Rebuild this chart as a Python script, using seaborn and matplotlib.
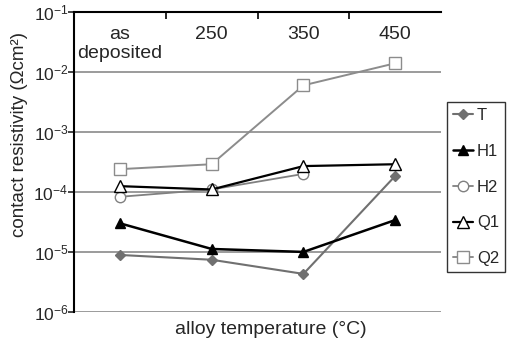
"""Contact resistivity vs alloy temperature, log scale."""
import matplotlib
matplotlib.use("Agg")
import matplotlib.pyplot as plt
import matplotlib.transforms as mtransforms
import numpy as np
import pandas as pd
import seaborn as sns

categories = ["as\ndeposited", "250", "350", "450"]
series_names = ["T", "H1", "H2", "Q1", "Q2"]
T_vals = [8.9e-6, 7.4e-6, 4.3e-6, 1.85e-4]
H1_vals = [3.0e-5, 1.12e-5, 1.0e-5, 3.4e-5]
H2_vals = [8.3e-5, 1.1e-4, 2.0e-4, np.nan]
Q1_vals = [1.25e-4, 1.1e-4, 2.7e-4, 2.9e-4]
Q2_vals = [2.4e-4, 2.9e-4, 6.0e-3, 1.4e-2]

styles = {
    "T": dict(color="#707070", marker="D", mfc="#707070", mec="#707070", ms=5.5, lw=1.5),
    "H1": dict(color="black", marker="^", mfc="black", mec="black", ms=7.5, lw=1.8),
    "H2": dict(color="#808080", marker="o", mfc="white", mec="#808080", ms=7.5, lw=1.3),
    "Q1": dict(color="black", marker="^", mfc="white", mec="black", ms=8, lw=1.6),
    "Q2": dict(color="#8c8c8c", marker="s", mfc="white", mec="#8c8c8c", ms=8, lw=1.4),
}

sns.set_style("white")
plt.rcParams["font.family"] = ["Liberation Sans", "DejaVu Sans"]

values = {"T": T_vals, "H1": H1_vals, "H2": H2_vals, "Q1": Q1_vals, "Q2": Q2_vals}
rows = []
for name in series_names:
    for i, v in enumerate(values[name]):
        rows.append({"series": name, "pos": i, "value": v})
df = pd.DataFrame(rows)

fig, ax = plt.subplots(figsize=(5.07, 3.45), dpi=100)
fig.subplots_adjust(left=0.146, right=0.870, top=0.965, bottom=0.096)

ax.set_yscale("log")
ax.set_ylim(1e-6, 1e-1)
ax.set_xlim(-0.5, 3.5)
for y in [1e-6, 1e-5, 1e-4, 1e-3, 1e-2]:
    ax.axhline(y, color="#939393", lw=1.3, zorder=0)

for name in series_names:
    st = styles[name]
    sub = df[df["series"] == name].dropna()
    sns.lineplot(data=sub, x="pos", y="value", ax=ax, color=st["color"], lw=st["lw"],
                 marker=st["marker"], markersize=st["ms"], markerfacecolor=st["mfc"],
                 markeredgecolor=st["mec"], markeredgewidth=1.0, label=name, sort=False)

# category labels sit inside the plot under the top spine
trans = mtransforms.blended_transform_factory(ax.transData, ax.transAxes)
for i, lab in enumerate(categories):
    ax.text(i, 0.955, lab, transform=trans, ha="center", va="top", fontsize=14, linespacing=1.15)

ax.xaxis.tick_top()
ax.set_xticks([0.5, 1.5, 2.5])
ax.set_xticklabels([])
ax.tick_params(axis="x", direction="in", length=5, width=1.2, color="black", top=True, bottom=False)
ax.tick_params(axis="y", direction="out", length=4, width=1.2, labelsize=12.5, pad=0, left=True)
ax.yaxis.set_minor_locator(matplotlib.ticker.NullLocator())

ax.spines["bottom"].set_visible(False)
ax.spines["right"].set_visible(False)
ax.spines["top"].set_color("black")
ax.spines["left"].set_color("black")
ax.spines["top"].set_linewidth(1.5)
ax.spines["left"].set_linewidth(1.5)

ax.set_xlabel("alloy temperature (°C)", fontsize=14)
ax.xaxis.set_label_position("bottom")
ax.xaxis.set_label_coords(0.537, -0.03)
ax.set_ylabel("contact resistivity (Ωcm²)", fontsize=13.5)
ax.yaxis.set_label_coords(-0.125, 0.59)

leg = ax.legend(loc="center left", bbox_to_anchor=(447 / 507, 1 - 187 / 345),
                bbox_transform=fig.transFigure, frameon=True, fancybox=False,
                fontsize=12, handlelength=1.2, handletextpad=0.25, labelspacing=1.25,
                borderpad=0.35, borderaxespad=0)
leg.get_frame().set_edgecolor("black")
leg.get_frame().set_linewidth(1.0)

fig.savefig("out.png", dpi=100)
